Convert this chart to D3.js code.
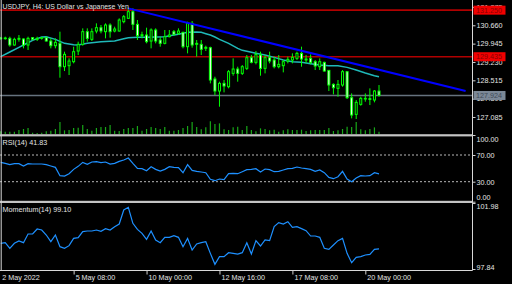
<!DOCTYPE html>
<html>
<head>
<meta charset="utf-8">
<title>USDJPY, H4</title>
<script src="https://cdn.jsdelivr.net/npm/d3@7"></script>
<style>
  body { margin: 0; background: #000; }
  svg { display: block; }
  text { font-family: "Liberation Sans", Arial, sans-serif; font-size: 7.2px; fill: #e4e4e4; }
  .axis path.domain { display: none; }
  .axis line { stroke: #d0d0d0; }
</style>
</head>
<body>
<script>
// ---- data (H4 bars, left to right) ----
var opens = [130.151,130.164,130.151,129.891,130.112,130.125,129.891,130.177,130.112,130.151,
  130.177,130.047,129.865,129.956,129.046,129.085,129.241,129.657,129.917,130.411,
  130.112,130.437,130.567,130.411,130.671,130.437,130.437,130.801,130.931,131.191,
  130.697,130.255,130.281,130.047,130.476,130.086,129.956,130.216,130.411,130.346,
  130.385,129.826,130.736,129.917,129.917,129.761,129.787,128.565,128.097,128.396,
  128.266,128.786,128.955,128.786,128.981,129.397,129.215,129.501,128.981,129.397,
  129.306,129.046,129.085,129.267,129.306,129.371,129.566,129.345,129.371,129.241,
  129.046,129.215,128.903,128.357,128.201,128.331,128.851,127.837,127.187,127.577,
  127.785,127.798,127.746,128.097];
var highs = [130.203,130.216,130.216,130.177,130.281,130.151,130.216,130.203,130.216,130.203,
  130.216,130.151,130.151,130.411,129.631,129.371,129.826,130.021,130.541,130.541,
  130.541,130.736,130.671,130.736,130.736,130.606,130.931,131.061,131.347,131.321,
  130.866,130.411,130.567,130.541,130.541,130.216,130.476,130.476,130.476,130.541,
  130.411,130.801,130.827,130.086,130.086,129.865,129.826,128.656,128.461,128.526,
  128.916,129.371,129.046,129.111,129.501,129.501,129.657,129.631,129.501,129.631,
  129.436,129.501,129.306,129.436,129.566,129.631,129.826,129.501,129.527,129.306,
  129.371,129.241,128.916,128.396,128.526,128.916,128.877,128.006,127.746,127.876,
  128.006,128.201,128.136,128.331];
var lows = [130.099,130.099,129.826,129.865,130.021,129.761,129.696,130.073,130.047,130.099,
  130.021,129.761,129.761,128.617,128.877,128.721,129.176,129.501,129.865,130.021,
  130.047,130.346,130.346,130.151,130.177,130.385,130.411,130.736,130.905,130.476,
  130.086,130.151,129.956,129.761,129.956,129.826,129.917,130.190,130.255,130.281,
  129.761,129.566,129.787,129.436,129.501,129.657,128.396,127.941,127.486,128.045,
  128.201,128.695,128.461,128.721,128.916,129.176,129.137,128.695,128.786,129.176,
  128.981,128.981,128.825,129.176,129.176,129.306,129.046,129.176,129.137,128.916,
  128.916,128.851,128.097,127.967,127.876,128.266,127.785,127.031,127.005,127.525,
  127.681,127.551,127.655,127.876];
var closes = [130.164,130.138,129.891,130.112,130.151,129.891,130.151,130.112,130.151,130.177,
  130.047,129.865,129.995,129.046,129.527,129.267,129.631,129.917,130.411,130.151,
  130.411,130.567,130.437,130.671,130.411,130.515,130.866,130.996,131.191,130.697,
  130.255,130.294,130.021,130.476,130.047,129.956,130.216,130.281,130.307,130.437,
  129.826,130.736,129.891,129.956,129.722,129.800,128.526,128.097,128.396,128.292,
  128.851,128.955,128.786,129.046,129.397,129.215,129.527,128.981,129.397,129.267,
  129.046,129.137,129.241,129.332,129.410,129.566,129.345,129.306,129.215,129.072,
  129.241,128.877,128.331,128.227,128.357,128.851,127.837,127.161,127.655,127.811,
  127.811,127.772,128.097,127.924];
var volumes = [8000,7000,7000,7000,12000,15000,18000,4000,3000,4000,
  8000,10000,15000,36000,11000,12000,18000,19000,27000,15000,
  10000,18000,21000,21000,27000,10000,9000,15000,18000,18000,
  24000,10000,15000,21000,18000,15000,21000,10000,10000,12000,
  18000,24000,36000,21000,14000,20000,38000,30000,32000,14000,
  12000,20000,22000,12000,24000,12000,8000,17000,15000,11000,
  13000,7000,11000,14000,12000,12000,13000,9000,11000,12000,
  12000,12000,18000,9000,11000,15000,22000,21000,36000,14000,
  11000,15000,20000,7000];
// moving average, [bar, price]
var maPoints = [[0,129.436],[2,129.618],[4,129.800],[5,129.891],[7,130.073],[9,130.203],[10,130.216],
  [12,130.112],[14,129.956],[16,129.904],[17,129.891],[19,129.956],[22,130.021],[25,130.047],
  [27,130.138],[28,130.177],[30,130.190],[32,130.190],[34,130.203],[36,130.216],[38,130.281],
  [39,130.307],[41,130.385],[43,130.398],[44,130.385],[45,130.333],[46,130.281],[47,130.203],
  [48,130.112],[50,129.956],[52,129.761],[53,129.683],[54,129.644],[55,129.605],[56,129.566],
  [58,129.501],[60,129.410],[62,129.306],[64,129.241],[66,129.215],[68,129.163],[70,129.111],
  [72,129.085],[74,129.085],[76,129.020],[78,128.916],[80,128.799],[82,128.695],[83,128.656]];
var rsi = [59.0,57.5,55.5,57.0,57.0,53.5,57.0,56.5,56.5,56.5,
  55.5,53.5,51.5,39.0,38.5,42.0,48.5,53.0,59.0,56.0,
  59.5,60.0,58.5,59.5,56.5,57.5,60.5,62.5,65.5,57.5,
  50.0,49.5,46.5,52.5,48.5,46.0,48.5,52.5,51.5,51.0,
  43.5,55.5,47.0,45.5,44.5,43.5,33.5,31.5,34.0,33.0,
  42.0,42.5,42.0,45.0,48.0,48.5,49.5,44.5,49.0,48.0,
  45.0,45.5,47.5,49.5,50.0,52.0,50.5,49.5,48.5,45.5,
  47.5,43.5,36.5,34.5,37.5,45.5,34.0,30.0,35.5,39.0,
  38.5,39.0,43.5,41.83];
var momentum = [99.450,99.491,99.136,99.450,99.596,99.491,100.035,100.035,100.349,100.286,
  99.972,99.554,99.972,99.240,99.136,99.303,99.763,99.805,100.181,100.223,
  100.223,100.286,100.202,100.370,100.286,100.495,100.662,101.541,101.708,100.704,
  100.328,100.077,99.700,100.223,99.659,99.491,99.826,99.826,99.930,99.826,
  99.240,99.763,99.031,99.408,99.491,99.554,98.822,98.132,98.613,98.613,
  98.864,98.822,98.780,98.864,99.491,98.780,99.617,99.282,99.659,99.617,
  100.495,100.746,100.662,100.809,100.453,100.495,100.370,100.244,99.909,99.909,
  99.826,99.136,99.073,99.345,99.617,99.763,98.822,98.237,98.571,98.613,
  98.718,98.759,99.073,99.10];

var priceTicks = [131.375, 130.660, 129.945, 129.230, 128.515, 127.800, 127.085];
var rsiTicks = [100, 70, 30, 0];
var rsiLevels = [70, 30];
var momTicks = [101.98, 97.84];
var timeTicks = [0, 16, 32, 48, 64, 80];
var timeLabels = ["2 May 2022", "5 May 08:00", "10 May 00:00", "12 May 16:00", "17 May 08:00", "20 May 00:00"];
var hLines = [131.250, 129.435];
var bidPrice = 127.924;
var trendLine = [[28, 131.32], [102, 128.10]];
var title = "USDJPY, H4:  US Dollar vs Japanese Yen";

// ---- layout ----
var W = 512, H = 284;
var right = 472.5;
var mainTop = 0, mainBottom = 134;
var rsiTop = 135, rsiBottom = 201.7;
var momTop = 203, momBottom = 269;
var axisY = 270.5;

var svg = d3.select("body").append("svg")
  .attr("width", W)
  .attr("height", H);

svg.append("rect").attr("width", W).attr("height", H).attr("fill", "#000");

var x = d3.scaleLinear().domain([0, 83]).range([0.7, 379]);
var yPrice = d3.scaleLinear().domain([131.646, 126.422]).range([mainTop, mainBottom]);
var yVol = d3.scaleLinear().domain([0, 40000]).range([mainBottom, mainBottom - 13.3]);
var yRsi = d3.scaleLinear().domain([0, 100]).range([rsiBottom, rsiTop]);
var yMom = d3.scaleLinear().domain([97.84, 101.98]).range([momBottom, momTop]);

var bars = d3.range(opens.length);

// volumes at the bottom of the main window
svg.append("g")
  .selectAll("line")
  .data(bars)
  .enter().append("line")
  .attr("x1", function(i) { return x(i); })
  .attr("x2", function(i) { return x(i); })
  .attr("y1", yVol(0))
  .attr("y2", function(i) { return yVol(volumes[i]); })
  .attr("stroke", "#18a818")
  .attr("stroke-width", 1.2);

// bid line
svg.append("line")
  .attr("x1", 0).attr("x2", right)
  .attr("y1", yPrice(bidPrice)).attr("y2", yPrice(bidPrice))
  .attr("stroke", "#66727e").attr("stroke-width", 1.6);

// horizontal red lines
svg.append("g")
  .selectAll("line")
  .data(hLines)
  .enter().append("line")
  .attr("x1", 0).attr("x2", right)
  .attr("y1", function(d) { return yPrice(d); })
  .attr("y2", function(d) { return yPrice(d); })
  .attr("stroke", "#b00000")
  .attr("stroke-width", 1.6);

// moving average
var maLine = d3.line()
  .x(function(d) { return x(d[0]); })
  .y(function(d) { return yPrice(d[1]); });

svg.append("path")
  .datum(maPoints)
  .attr("d", maLine)
  .attr("fill", "none")
  .attr("stroke", "#1fb8b8")
  .attr("stroke-width", 1.5);

// candles
var candles = svg.append("g")
  .selectAll("g")
  .data(bars)
  .enter().append("g");

candles.append("line")
  .attr("x1", function(i) { return x(i); })
  .attr("x2", function(i) { return x(i); })
  .attr("y1", function(i) { return yPrice(highs[i]); })
  .attr("y2", function(i) { return yPrice(lows[i]); })
  .attr("stroke", "#00ff00")
  .attr("stroke-width", 1);

candles.append("rect")
  .attr("x", function(i) { return x(i) - 1; })
  .attr("width", 2)
  .attr("y", function(i) { return yPrice(Math.max(opens[i], closes[i])); })
  .attr("height", function(i) {
    return Math.max(0.5, yPrice(Math.min(opens[i], closes[i])) - yPrice(Math.max(opens[i], closes[i])));
  })
  .attr("fill", function(i) { return closes[i] < opens[i] ? "#ffffff" : "#000000"; })
  .attr("stroke", "#00ff00")
  .attr("stroke-width", 1);

// trend line
svg.append("line")
  .attr("x1", x(trendLine[0][0])).attr("y1", yPrice(trendLine[0][1]))
  .attr("x2", x(trendLine[1][0])).attr("y2", yPrice(trendLine[1][1]))
  .attr("stroke", "#0000ff")
  .attr("stroke-width", 2);

svg.append("text")
  .attr("x", 2.5).attr("y", 8.8)
  .style("font-size", "6.9px")
  .text(title);

// RSI window
svg.append("g")
  .selectAll("line")
  .data(rsiLevels)
  .enter().append("line")
  .attr("x1", 0).attr("x2", right)
  .attr("y1", function(d) { return yRsi(d); })
  .attr("y2", function(d) { return yRsi(d); })
  .attr("stroke", "#b8b8b8")
  .attr("stroke-dasharray", "2,2");

svg.append("path")
  .datum(bars)
  .attr("d", d3.line().x(function(i) { return x(i); }).y(function(i) { return yRsi(rsi[i]); }))
  .attr("fill", "none")
  .attr("stroke", "#1e90ff")
  .attr("stroke-width", 1.2);

svg.append("text").attr("x", 2.5).attr("y", 145).text("RSI(14) " + rsi[rsi.length - 1].toFixed(2));

// Momentum window
svg.append("path")
  .datum(bars)
  .attr("d", d3.line().x(function(i) { return x(i); }).y(function(i) { return yMom(momentum[i]); }))
  .attr("fill", "none")
  .attr("stroke", "#1e90ff")
  .attr("stroke-width", 1.2);

svg.append("text").attr("x", 2.5).attr("y", 211.6).text("Momentum(14) " + momentum[momentum.length - 1].toFixed(2));

// window separators and frame
svg.append("rect").attr("x", 0).attr("y", 134.2).attr("width", right).attr("height", 2.2).attr("fill", "#c4c4c4");
svg.append("rect").attr("x", 0).attr("y", 200.8).attr("width", right).attr("height", 2.2).attr("fill", "#c4c4c4");
svg.append("line").attr("x1", 1.2).attr("x2", 1.2).attr("y1", 0).attr("y2", axisY).attr("stroke", "#d8d8d8");
svg.append("line").attr("x1", right).attr("x2", right).attr("y1", 0).attr("y2", axisY).attr("stroke", "#d8d8d8");
svg.append("line").attr("x1", 0).attr("x2", right).attr("y1", axisY).attr("y2", axisY).attr("stroke", "#d8d8d8");

// price axis
svg.append("g")
  .attr("class", "axis")
  .attr("transform", "translate(" + right + ",0)")
  .call(d3.axisRight(yPrice).tickValues(priceTicks).tickSize(3).tickPadding(1).tickFormat(d3.format(".3f")));

// rsi axis
var rsiAxis = svg.append("g")
  .attr("class", "axis")
  .attr("transform", "translate(" + right + ",0)")
  .call(d3.axisRight(yRsi).tickValues(rsiTicks).tickSize(3).tickPadding(1).tickFormat(d3.format(".2f")));
rsiAxis.selectAll("text").attr("dy", function(d) {
  return d === 100 ? "0.95em" : (d === 0 ? "-0.3em" : "0.32em");
});

// momentum axis
var momAxis = svg.append("g")
  .attr("class", "axis")
  .attr("transform", "translate(" + right + ",0)")
  .call(d3.axisRight(yMom).tickValues(momTicks).tickSize(3).tickPadding(1).tickFormat(d3.format(".2f")));
momAxis.selectAll("text").attr("dy", function(d, i) { return i === 0 ? "0.8em" : "0.05em"; });

// time axis
var timeAxis = svg.append("g")
  .attr("class", "axis")
  .attr("transform", "translate(0," + axisY + ")")
  .call(d3.axisBottom(x).tickValues(timeTicks).tickSize(4)
    .tickFormat(function(d, i) { return timeLabels[i]; }));
timeAxis.selectAll("text")
  .attr("text-anchor", "start")
  .attr("x", function(d, i) { return i === 0 ? 1 : 1.5; })
  .attr("y", 9.5)
  .attr("dy", 0);
timeAxis.selectAll(".tick").filter(function(d, i) { return i === 0; }).select("line").remove();

// price labels on the right
function priceLabel(price, fill, color) {
  var g = svg.append("g").attr("transform", "translate(473.5," + yPrice(price) + ")");
  g.append("rect").attr("x", 0).attr("y", -4.5).attr("width", 32).attr("height", 9).attr("fill", fill);
  g.append("text").attr("x", 2.5).attr("y", 2.6).style("fill", color).text(price.toFixed(3));
}
hLines.forEach(function(p) { priceLabel(p, "#f00000", "#8a0000"); });
priceLabel(bidPrice, "#7b8896", "#3f4a56");
</script>
</body>
</html>
